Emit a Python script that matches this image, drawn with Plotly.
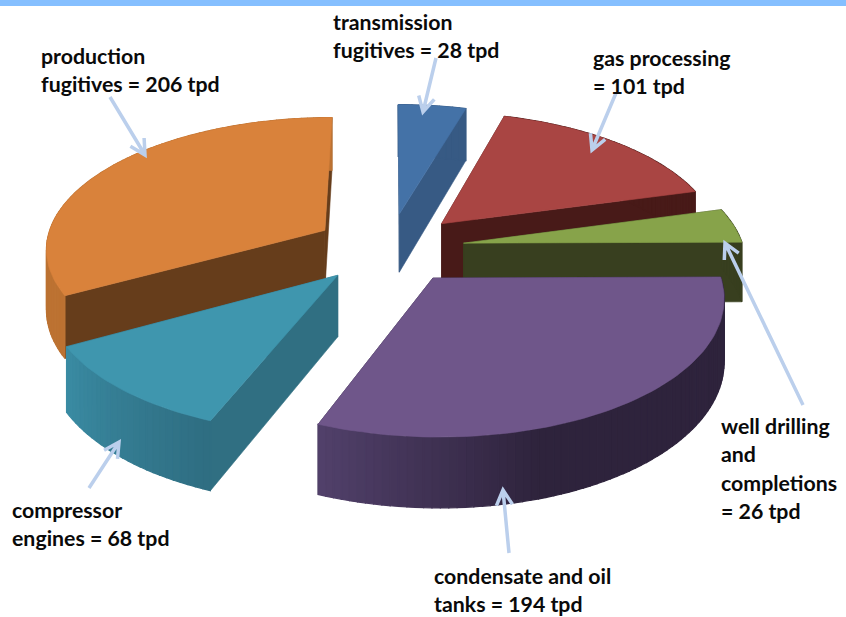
import numpy as np
import plotly.graph_objects as go

# tons per day, clockwise from 12 o'clock
sources = ["transmission fugitives", "gas processing", "well drilling and completions",
           "condensate and oil tanks", "compressor engines", "production fugitives"]
tpd = [28, 101, 26, 194, 68, 206]

label_lines = [
    ["transmission", "fugitives = 28 tpd"],
    ["gas processing", "= 101 tpd"],
    ["well drilling", "and", "completions", "= 26 tpd"],
    ["condensate and oil", "tanks = 194 tpd"],
    ["compressor", "engines = 68 tpd"],
    ["production", "fugitives = 206 tpd"],
]
label_pos = [(333, 22), (593, 58), (721, 426), (434, 576), (12, 510), (41, 56)]
line_gap = 28.4
arrows = [(436, 58, 423, 112), (616, 93, 592, 150), (803, 405, 725, 243),
          (509, 553, 503, 490), (89, 488, 119, 442), (110, 97, 145, 155)]

top_col = ["#4472A7", "#A94543", "#87A34A", "#6F568A", "#3F96AE", "#D9823B"]
cut_col = ["#375A84", "#481A18", "#383F1F", "#2E233C", "#306F82", "#663D1B"]
wall_a = ["#375A84", "#481A18", "#383F1F", "#51406A", "#3A8BA3", "#BC7232"]
wall_b = ["#375A84", "#481A18", "#383F1F", "#2E233C", "#2F6E82", "#BC7232"]
draw_order = [0, 1, 5, 2, 4, 3]

# fake 3d projection of the pie
CX, CY = 389, 248
SX, SY = 280, 131
PERSP = 0.125
EXPLODE = 0.27
DEPTH = 60


def project(px, py, z=0.0):
    s = 1 / (1 - PERSP * py)
    return CX + SX * px * s, CY + SY * py * s + z * s


def mix(c1, c2, t):
    a = [int(c1[i:i + 2], 16) for i in (1, 3, 5)]
    b = [int(c2[i:i + 2], 16) for i in (1, 3, 5)]
    return "rgb(%d,%d,%d)" % tuple(round(u + (v - u) * t) for u, v in zip(a, b))


def poly(fig, pts, color, width=0.6):
    xs, ys = zip(*pts)
    fig.add_trace(go.Scatter(
        x=list(xs) + [xs[0]], y=list(ys) + [ys[0]], mode="lines", fill="toself",
        fillcolor=color, line=dict(color=color, width=width),
        hoverinfo="skip", showlegend=False,
    ))


edges = np.cumsum([0] + tpd) / sum(tpd) * 2 * np.pi

fig = go.Figure()
for i in draw_order:
    a0, a1 = edges[i], edges[i + 1]
    mid = (a0 + a1) / 2
    ox, oy = EXPLODE * np.sin(mid), -EXPLODE * np.cos(mid)
    ang = np.linspace(a0, a1, max(6, int((a1 - a0) * 40)))
    rim = [(ox + np.sin(t), oy - np.cos(t)) for t in ang]

    # cut faces, farther one first
    faces = [[(ox, oy), rim[0]], [(ox, oy), rim[-1]]]
    faces.sort(key=lambda f: f[1][1])
    for p, q in faces:
        poly(fig, [project(*p), project(*q), project(*q, DEPTH), project(*p, DEPTH)], cut_col[i])

    # outer wall in strips, shaded along the arc
    strips = sorted(range(len(rim) - 1), key=lambda k: rim[k][1])
    for k in strips:
        t = k / (len(rim) - 2)
        if i == 3:
            t = min(1, (1 - t) / 0.35)
        elif i == 4:
            t = 1 - t
        poly(fig, [project(*rim[k]), project(*rim[k + 1]),
                   project(*rim[k + 1], DEPTH), project(*rim[k], DEPTH)],
             mix(wall_a[i], wall_b[i], t), width=1.2)

    poly(fig, [project(ox, oy)] + [project(*p) for p in rim], top_col[i])

shapes = [dict(type="rect", x0=0, x1=846, y0=0, y1=6, fillcolor="#85BFFF", line_width=0)]
for x0, y0, x1, y1 in arrows:
    d = np.hypot(x1 - x0, y1 - y0)
    ux, uy = (x1 - x0) / d, (y1 - y0) / d
    head = 15
    hx1, hy1 = x1 - head * ux - 8 * uy, y1 - head * uy + 8 * ux
    hx2, hy2 = x1 - head * ux + 8 * uy, y1 - head * uy - 8 * ux
    shapes.append(dict(type="path", path=f"M{x0},{y0} L{x1},{y1} M{hx1},{hy1} L{x1},{y1} L{hx2},{hy2}",
                       line=dict(color="#BBCFEC", width=3.5)))

annotations = []
for lines, (lx, ly) in zip(label_lines, label_pos):
    for n, txt in enumerate(lines):
        annotations.append(dict(
            x=lx, y=ly + n * line_gap, text=f"<b>{txt}</b>", showarrow=False,
            xanchor="left", yanchor="middle", xshift=-2,
            font=dict(family="Lato", size=21.3, color="#0a0a0a"),
        ))

fig.update_layout(
    width=846, height=617, margin=dict(l=0, r=0, t=0, b=0),
    paper_bgcolor="white", plot_bgcolor="white", showlegend=False,
    xaxis=dict(range=[0, 846], visible=False, fixedrange=True),
    yaxis=dict(range=[617, 0], visible=False, fixedrange=True),
    shapes=shapes, annotations=annotations,
)

fig.write_html("out.html", config=dict(displayModeBar=False),
               post_script="document.body.style.margin='0'")
